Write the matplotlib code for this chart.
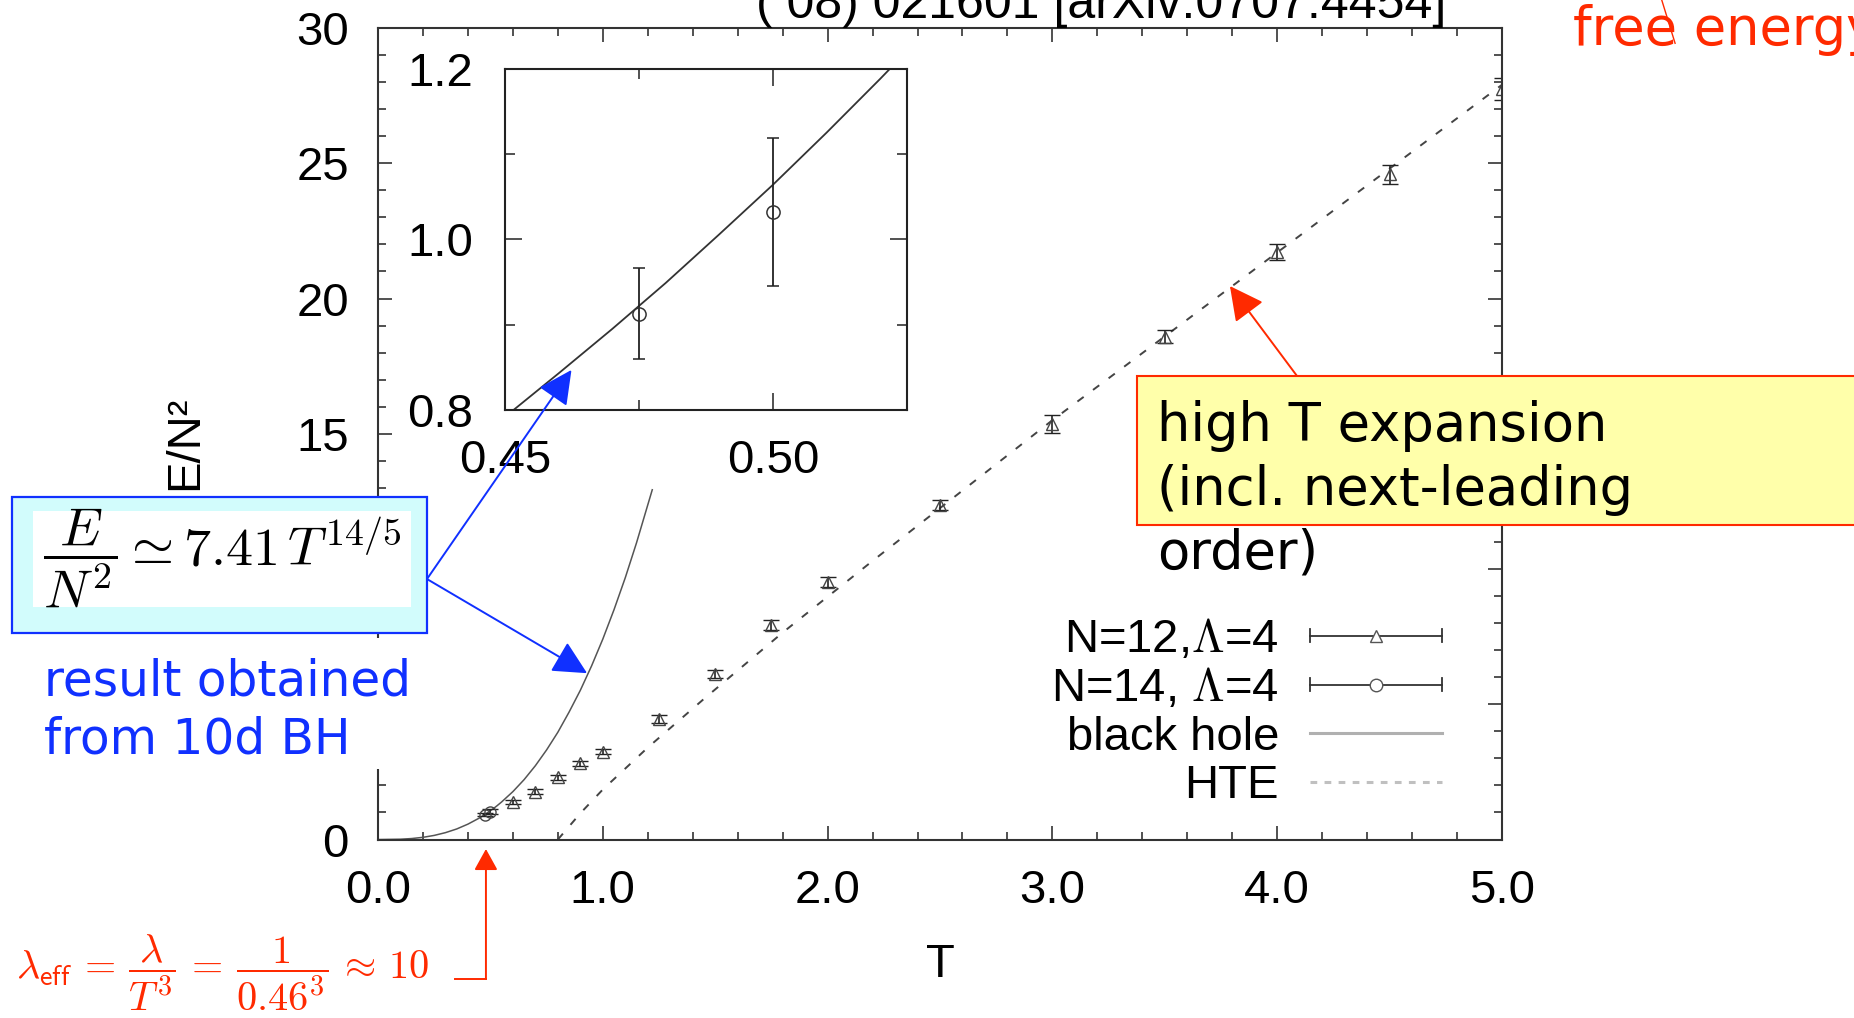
import matplotlib
matplotlib.use('Agg')
import matplotlib.pyplot as plt
from matplotlib.lines import Line2D
from matplotlib.patches import Rectangle
from matplotlib.legend_handler import HandlerBase
from matplotlib.ticker import MultipleLocator, FormatStrFormatter

plt.rcParams['font.family'] = ['Liberation Sans', 'DejaVu Sans']
plt.rcParams['mathtext.fontset'] = 'cm'

# N=12, Lambda=4 (triangles)
t_n12 = [0.6, 0.7, 0.8, 0.9, 1.0, 1.25, 1.5, 1.75, 2.0, 2.5, 3.0, 3.5, 4.0, 4.5, 5.0]
e_n12 = [1.40, 1.77, 2.30, 2.82, 3.25, 4.47, 6.11, 7.93, 9.51, 12.37, 15.36, 18.59, 21.71, 24.59, 27.74]
err_n12 = [0.08, 0.08, 0.1, 0.1, 0.1, 0.15, 0.15, 0.18, 0.18, 0.2, 0.33, 0.23, 0.3, 0.34, 0.41]

# N=14, Lambda=4 (circles)
t_n14 = [0.475, 0.5]
e_n14 = [0.913, 1.032]
err_n14 = [0.053, 0.087]

# black hole curve
t_bh = [0.0, 0.1, 0.15, 0.2, 0.25, 0.3, 0.35, 0.4, 0.45, 0.46, 0.47, 0.48, 0.49, 0.50,
        0.51, 0.52, 0.53, 0.55, 0.6, 0.65, 0.7, 0.75, 0.8, 0.85, 0.9, 0.95, 1.0, 1.05,
        1.1, 1.15, 1.22]
e_bh = [0.0, 0.012, 0.037, 0.082, 0.153, 0.255, 0.391, 0.570, 0.792, 0.843, 0.895, 0.949,
        1.006, 1.064, 1.125, 1.188, 1.253, 1.391, 1.772, 2.216, 2.730, 3.314, 3.967, 4.713,
        5.517, 6.418, 7.41, 8.50, 9.68, 10.97, 12.93]

# high T expansion curve
t_hte = [0.80, 0.9, 1.0, 1.2, 1.45, 1.8, 2.2, 2.6, 3.0, 3.5, 4.0, 4.5, 5.0]
e_hte = [0.0, 0.97, 1.85, 3.4, 5.2, 7.65, 10.3, 12.9, 15.5, 18.6, 21.7, 24.8, 27.9]

# y tick labels: 5 and 10 sit under the overlaid boxes in the slide
y_ticks = [0, 5, 10, 15, 20, 25, 30]
y_tick_labels = ['0', '', '', '15', '20', '25', '30']

legend_labels = ['N=12,$\\Lambda$=4', 'N=14, $\\Lambda$=4', 'black hole', 'HTE']

RED = '#ff2a00'
BLUE = '#1030ff'


class CapHandler(HandlerBase):
    # gnuplot style errorbar key: horizontal bar with end caps, marker in the middle
    def __init__(self, marker, ms):
        super().__init__()
        self.marker = marker
        self.ms = ms

    def create_artists(self, legend, orig_handle, xdescent, ydescent, width, height, fontsize, trans):
        y = height / 2 - ydescent
        x0, x1 = -xdescent, width - xdescent
        c = height * 0.2
        arts = [Line2D([x0, x1], [y, y], color='#333333', lw=1.3),
                Line2D([x0, x0], [y - c, y + c], color='#333333', lw=1.3),
                Line2D([x1, x1], [y - c, y + c], color='#333333', lw=1.3),
                Line2D([(x0 + x1) / 2], [y], marker=self.marker, ms=self.ms,
                       mfc='white', mec='#555555', lw=0)]
        for a in arts:
            a.set_transform(trans)
        return arts


fig = plt.figure(figsize=(18.54, 10.18), dpi=100)

# main axes
ax = fig.add_axes([0.2039, 0.1753, 0.6062, 0.7972])
ax.plot(t_bh, e_bh, color='#555555', lw=1.1)
ax.plot(t_hte, e_hte, color='#444444', lw=1.4, dashes=(4, 6))
ax.errorbar(t_n12, e_n12, yerr=err_n12, fmt='^', ms=8, mfc='none', mec='#444444', mew=1.0,
            ecolor='#222222', elinewidth=1.2, capsize=5.5, capthick=1.3)
ax.errorbar(t_n14, e_n14, yerr=err_n14, fmt='o', ms=8, mfc='none', mec='#444444', mew=1.0,
            ecolor='#222222', elinewidth=1.2, capsize=5.5, capthick=1.3)

ax.set_xlim(0, 5)
ax.set_ylim(0, 30)
ax.xaxis.set_major_locator(MultipleLocator(1))
ax.xaxis.set_minor_locator(MultipleLocator(0.2))
ax.set_yticks(y_ticks, y_tick_labels)
ax.yaxis.set_minor_locator(MultipleLocator(1))
ax.xaxis.set_major_formatter(FormatStrFormatter('%.1f'))
ax.tick_params(which='both', direction='in', top=True, right=True, width=1.1,
               color='#222222', labelsize=34, pad=21)
ax.tick_params(which='major', length=10)
ax.tick_params(which='minor', length=5.5)
for s in ax.spines.values():
    s.set_linewidth(1.5)
    s.set_color('#333333')

ax.set_ylabel('E/N²', fontsize=34)
ax.yaxis.set_label_coords(-0.152, 0.4886)
ax.set_xlabel('T', fontsize=34)
ax.xaxis.set_label_coords(0.5, -0.128)

h12 = Line2D([], [])
h14 = Line2D([], [])
hbh = Line2D([], [], color='#b0b0b0', lw=2.2)
hht = Line2D([], [], color='#c0c0c0', lw=2.2, dashes=(2.2, 2.4))
ax.legend([h12, h14, hbh, hht], legend_labels,
          handler_map={h12: CapHandler('^', 8), h14: CapHandler('o', 9)},
          loc='upper right', bbox_to_anchor=(0.947, 0.2726), frameon=False, fontsize=34,
          markerfirst=False, handlelength=2.8, handletextpad=0.66, labelspacing=0.1,
          borderpad=0, borderaxespad=0)

# inset
axin = fig.add_axes([0.2724, 0.5972, 0.2168, 0.3354])
axin.plot(t_bh, e_bh, color='#333333', lw=1.3)
axin.errorbar(t_n14, e_n14, yerr=err_n14, fmt='o', ms=9.5, mfc='none', mec='#333333', mew=1.1,
              ecolor='#222222', elinewidth=1.3, capsize=4.3, capthick=1.3)
axin.set_xlim(0.45, 0.525)
axin.set_ylim(0.8, 1.2)
axin.xaxis.set_major_locator(MultipleLocator(0.05))
axin.xaxis.set_minor_locator(MultipleLocator(0.025))
axin.yaxis.set_major_locator(MultipleLocator(0.2))
axin.yaxis.set_minor_locator(MultipleLocator(0.1))
axin.xaxis.set_major_formatter(FormatStrFormatter('%.2f'))
axin.yaxis.set_major_formatter(FormatStrFormatter('%.1f'))
axin.tick_params(which='both', direction='in', top=True, right=True, width=1.1,
                 color='#222222', labelsize=34)
axin.tick_params(axis='x', pad=21)
axin.tick_params(axis='y', pad=23)
axin.tick_params(which='major', length=12)
axin.tick_params(which='minor', length=7)
for s in axin.spines.values():
    s.set_linewidth(1.5)
    s.set_color('#222222')

# title fragment cut at the top
fig.text(0.408, 0.982, '( 08) 021601 [arXiv:0707.4454]', fontsize=36, va='baseline', ha='left')

# "free energy" cut at the right
fig.text(0.8484, 0.956, 'free energy', fontsize=38, color=RED, family='DejaVu Sans', va='baseline')
fig.add_artist(Line2D([0.8963, 0.9035], [1.0, 0.9575], transform=fig.transFigure, color=RED, lw=1.0))

# blue formula box
fig.add_artist(Rectangle((0.0065, 0.378), 0.2238, 0.134, transform=fig.transFigure,
                         fc='#d2fcfc', ec=BLUE, lw=1.6))
fig.add_artist(Rectangle((0.018, 0.4037), 0.2037, 0.0943, transform=fig.transFigure,
                         fc='white', ec='none'))
fig.text(0.1200, 0.452, r'$\dfrac{E}{N^2} \simeq 7.41\,T^{14/5}$', fontsize=39, ha='center', va='center')

fig.add_artist(Rectangle((0.02, 0.2446), 0.2, 0.1287, transform=fig.transFigure,
                         fc='white', ec='none'))
fig.text(0.0235, 0.302, 'result obtained\nfrom 10d BH', fontsize=35, color=BLUE,
         family='DejaVu Sans', va='center', ha='left', linespacing=1.25)

blue_arrow = dict(arrowstyle='-|>,head_length=0.7,head_width=0.35', color=BLUE, lw=1.4,
                  mutation_scale=30, shrinkA=0, shrinkB=0)
axin.annotate('', xy=(0.4624, 0.847), xycoords='data', xytext=(0.2303, 0.4312),
              textcoords='figure fraction', arrowprops=blue_arrow, annotation_clip=False)
ax.annotate('', xy=(0.93, 6.15), xycoords='data', xytext=(0.2303, 0.4312),
            textcoords='figure fraction', arrowprops=blue_arrow, annotation_clip=False)

# yellow HTE box
fig.add_artist(Rectangle((0.6135, 0.4843), 0.4, 0.1463, transform=fig.transFigure,
                         fc='#ffffaa', ec=RED, lw=1.5))
fig.text(0.6240, 0.607, 'high T expansion\n(incl. next-leading\norder)', fontsize=38,
         family='DejaVu Sans', va='top', ha='left', linespacing=1.28)
ax.annotate('', xy=(3.79, 20.46), xycoords='data', xytext=(0.6996, 0.6306),
            textcoords='figure fraction', annotation_clip=False,
            arrowprops=dict(arrowstyle='-|>,head_length=0.7,head_width=0.36', color=RED, lw=1.4,
                            mutation_scale=30, shrinkA=0, shrinkB=0))

# lambda_eff note at the bottom
fig.text(0.0085, 0.0445,
         r'$\lambda_{\mathsf{eff}}\,=\,\dfrac{\lambda}{T^{\mathsf{3}}}\,=\,'
         r'\dfrac{\mathsf{1}}{\mathsf{0.46}^{\mathsf{3}}}\,\approx\,\mathsf{10}$',
         fontsize=29, color=RED, ha='left', va='center')
fig.add_artist(Line2D([0.2454, 0.2621], [0.0383, 0.0383], transform=fig.transFigure, color=RED, lw=1.4))
ax.annotate('', xy=(0.2621, 0.166), xycoords='figure fraction', xytext=(0.2621, 0.0383),
            textcoords='figure fraction', annotation_clip=False,
            arrowprops=dict(arrowstyle='-|>,head_length=0.65,head_width=0.36', color=RED, lw=1.4,
                            mutation_scale=20, shrinkA=0, shrinkB=0))

fig.savefig('out.png', dpi=100)
